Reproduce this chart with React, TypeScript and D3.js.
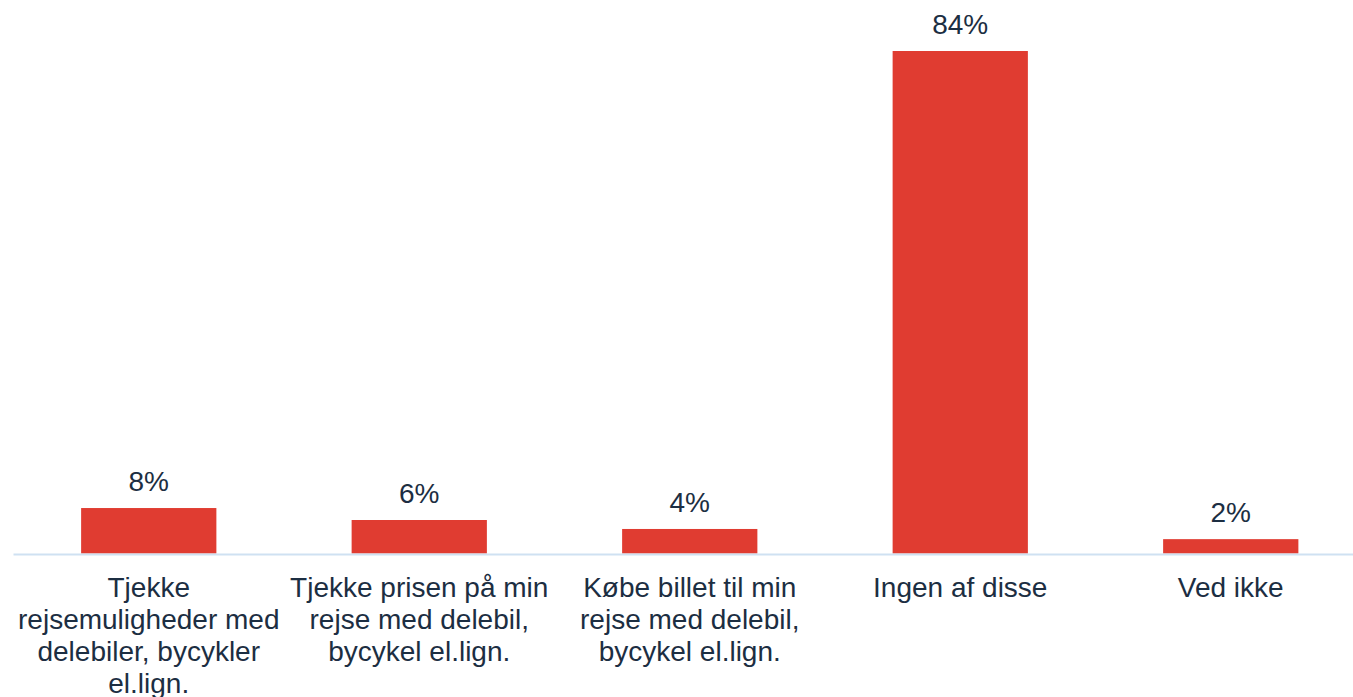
import React from 'react';
import { scaleBand, scaleLinear } from 'd3';

const categories = [
  'Tjekke\nrejsemuligheder med\ndelebiler, bycykler\nel.lign.',
  'Tjekke prisen på min\nrejse med delebil,\nbycykel el.lign.',
  'Købe billet til min\nrejse med delebil,\nbycykel el.lign.',
  'Ingen af disse',
  'Ved ikke',
];
const values = [7.6, 5.6, 4.1, 84.0, 2.4];
const valueLabels = ['8%', '6%', '4%', '84%', '2%'];

const width = 1353;
const height = 697;
const baseline = 553.5;
const barColor = '#e03c31';
const textColor = '#1c2e42';
const font = '"Liberation Sans", Arial, sans-serif';

export default function App() {
  const x = scaleBand<string>()
    .domain(categories)
    .range([13.5, 1366])
    .paddingInner(0.5)
    .paddingOuter(0.25);

  const y = scaleLinear().domain([0, 84]).range([baseline, 51]);

  return (
    <svg
      width={width}
      height={height}
      style={{ position: 'absolute', left: 0, top: 0, background: '#fff' }}
      fontFamily={font}
    >
      {categories.map((c, i) => (
        <rect
          key={'b' + i}
          x={x(c)}
          y={y(values[i])}
          width={x.bandwidth()}
          height={baseline - y(values[i])}
          fill={barColor}
        />
      ))}
      <line x1={13.5} x2={width} y1={baseline + 1} y2={baseline + 1} stroke="#cfe1f2" strokeWidth={2} />
      {categories.map((c, i) => (
        <text
          key={'v' + i}
          x={(x(c) ?? 0) + x.bandwidth() / 2}
          y={y(values[i]) - 17}
          textAnchor="middle"
          fontSize={28}
          fill={textColor}
        >
          {valueLabels[i]}
        </text>
      ))}
      {categories.map((c, i) => (
        <text
          key={'c' + i}
          x={(x(c) ?? 0) + x.bandwidth() / 2}
          y={597}
          textAnchor="middle"
          fontSize={28}
          fill={textColor}
        >
          {c.split('\n').map((ln, j) => (
            <tspan key={j} x={(x(c) ?? 0) + x.bandwidth() / 2} dy={j === 0 ? 0 : 32}>
              {ln}
            </tspan>
          ))}
        </text>
      ))}
    </svg>
  );
}
